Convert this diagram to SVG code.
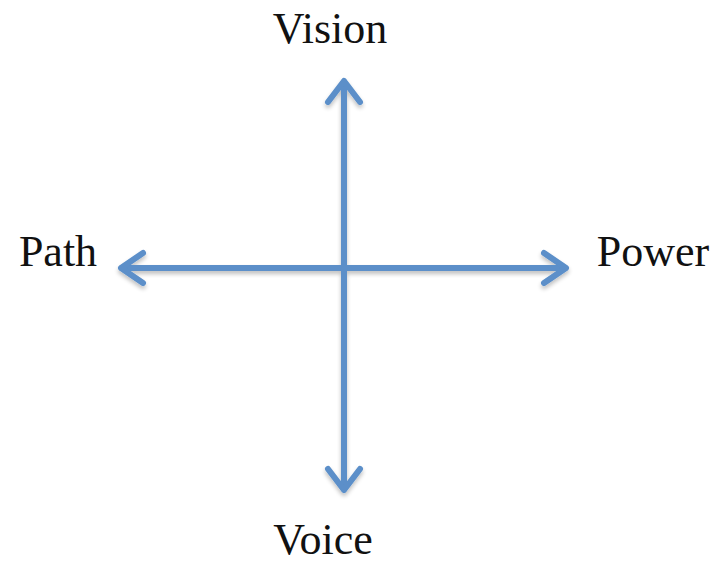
<svg xmlns="http://www.w3.org/2000/svg" width="719" height="567" viewBox="0 0 719 567">
  <style>
    .lbl { font-family: "Liberation Serif", "DejaVu Serif", serif; font-size: 44px; fill: #111; }
    .axis { stroke: #5b8fc9; stroke-width: 6; fill: none; stroke-linecap: round; stroke-linejoin: round; }
  </style>
  <defs>
    <filter id="sh" x="-20%" y="-20%" width="140%" height="140%">
      <feGaussianBlur in="SourceAlpha" stdDeviation="2"/>
      <feOffset dx="0" dy="3" result="b"/>
      <feComponentTransfer><feFuncA type="linear" slope="0.25"/></feComponentTransfer>
      <feMerge><feMergeNode/><feMergeNode in="SourceGraphic"/></feMerge>
    </filter>
  </defs>
  <rect width="719" height="567" fill="#fff"/>
  <g id="connectors" filter="url(#sh)">
    <g id="vertical">
      <line class="axis" x1="344" y1="82" x2="344" y2="489"/>
      <polyline class="axis" points="328,102 344,81 360,102"/>
      <polyline class="axis" points="328,469 344,490 360,469"/>
    </g>
    <g id="horizontal">
      <line class="axis" x1="122" y1="268" x2="565" y2="268"/>
      <polyline class="axis" points="143,253 121,268 143,283"/>
      <polyline class="axis" points="544,253 566,268 544,283"/>
    </g>
  </g>
  <g id="vision"><text class="lbl" x="330" y="43" text-anchor="middle">Vision</text></g>
  <g id="path"><text class="lbl" x="58" y="266" text-anchor="middle">Path</text></g>
  <g id="power"><text class="lbl" x="653" y="266" text-anchor="middle">Power</text></g>
  <g id="voice"><text class="lbl" x="323" y="554" text-anchor="middle">Voice</text></g>
</svg>
